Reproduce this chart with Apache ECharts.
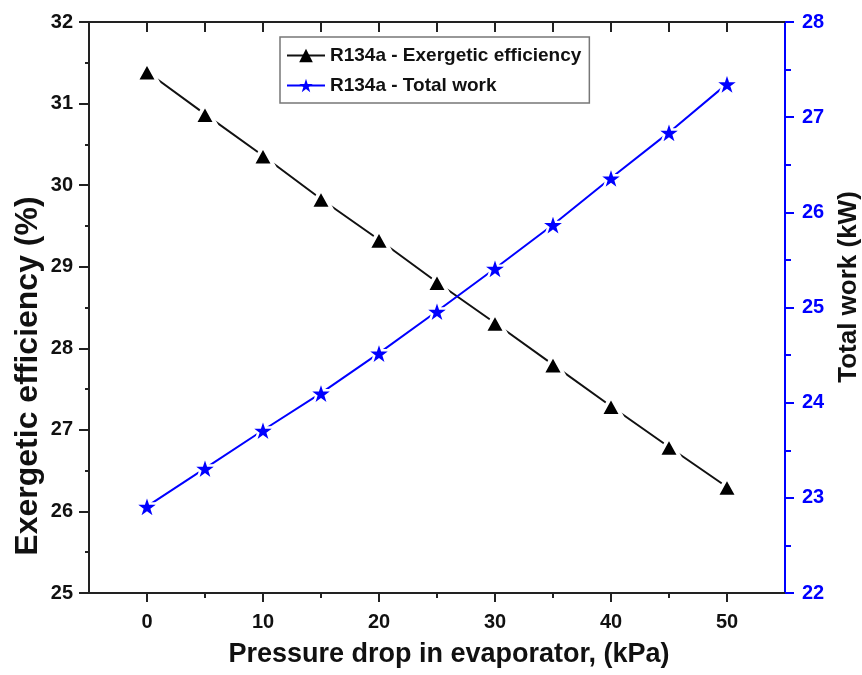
<!DOCTYPE html>
<html>
<head>
<meta charset="utf-8">
<script src="https://cdn.jsdelivr.net/npm/echarts@6/dist/echarts.min.js"></script>
<style>html,body{margin:0;padding:0;background:#fff;}#c{width:862px;height:675px;}</style>
</head>
<body>
<div id="c"></div>
<script>
const pressureDrop = [0, 5, 10, 15, 20, 25, 30, 35, 40, 45, 50];
const exergeticEfficiency = [31.39, 30.87, 30.36, 29.83, 29.33, 28.81, 28.31, 27.80, 27.29, 26.79, 26.30];
const totalWork = [22.91, 23.31, 23.71, 24.10, 24.52, 24.96, 25.41, 25.87, 26.36, 26.84, 27.35];
const xMajorTicks = [0, 10, 20, 30, 40, 50];
const xMinorTicks = [5, 15, 25, 35, 45];
const xTopTicks = [0, 5, 10, 15, 20, 25, 30, 35, 40, 45, 50];
const seriesNames = ['R134a - Exergetic efficiency', 'R134a - Total work'];
const xTitle = 'Pressure drop in evaporator, (kPa)';
const yLeftTitle = 'Exergetic efficiency (%)';
const yRightTitle = 'Total work (kW)';

const FONT = '"Liberation Sans", Arial, sans-serif';
const STAR = 'path://M50,0 L61.8,35.5 L99,35.5 L69,57.5 L80.5,93 L50,71 L19.5,93 L31,57.5 L1,35.5 L38.2,35.5 Z';

const chart = echarts.init(document.getElementById('c'));
const baseX = {min: -5, max: 55, type: 'value', splitLine: {show: false}};
chart.setOption({
  animation: false,
  backgroundColor: '#fff',
  grid: {left: 89, right: 77, top: 22, bottom: 82, containLabel: false},
  legend: {
    orient: 'vertical', left: 280, top: 37,
    padding: [9, 8, 8, 6], itemGap: 11,
    itemWidth: 38, itemHeight: 17,
    borderColor: '#777', borderWidth: 1.5,
    itemStyle: {borderWidth: 0},
    textStyle: {fontFamily: FONT, fontWeight: 'bold', fontSize: 19, color: '#111'},
    data: seriesNames
  },
  xAxis: [
    Object.assign({}, baseX, {
      position: 'bottom',
      axisLine: {show: true, onZero: false, lineStyle: {color: '#222', width: 2}},
      axisTick: {show: true, inside: false, length: 9, customValues: xMajorTicks, lineStyle: {color: '#222', width: 2}},
      axisLabel: {show: true, customValues: xMajorTicks, margin: 19, fontFamily: FONT, fontWeight: 'bold', fontSize: 20, color: '#111'}
    }),
    Object.assign({}, baseX, {
      position: 'bottom',
      axisLine: {show: false, onZero: false},
      axisTick: {show: true, inside: false, length: 5, customValues: xMinorTicks, lineStyle: {color: '#222', width: 2}},
      axisLabel: {show: false}
    }),
    Object.assign({}, baseX, {
      position: 'top',
      axisLine: {show: true, onZero: false, lineStyle: {color: '#222', width: 2}},
      axisTick: {show: true, inside: true, length: 10, customValues: xTopTicks, lineStyle: {color: '#222', width: 2}},
      axisLabel: {show: false}
    })
  ],
  yAxis: [
    {
      type: 'value', min: 25, max: 32, interval: 1, position: 'left',
      splitLine: {show: false},
      axisLine: {show: true, onZero: false, lineStyle: {color: '#222', width: 2}},
      axisTick: {show: true, length: 10, lineStyle: {color: '#222', width: 2}},
      minorTick: {show: true, splitNumber: 2, length: 4, lineStyle: {color: '#222', width: 2}},
      axisLabel: {margin: 16, fontFamily: FONT, fontWeight: 'bold', fontSize: 20, color: '#111'}
    },
    {
      type: 'value', min: 22, max: 28, interval: 1, position: 'right',
      splitLine: {show: false},
      axisLine: {show: true, onZero: false, lineStyle: {color: '#0000ff', width: 2}},
      axisTick: {show: true, length: 9, lineStyle: {color: '#0000ff', width: 2}},
      minorTick: {show: true, splitNumber: 2, length: 6, lineStyle: {color: '#0000ff', width: 2}},
      axisLabel: {margin: 17, fontFamily: FONT, fontWeight: 'bold', fontSize: 20, color: '#0000ff'}
    }
  ],
  graphic: [
    {type: 'text', x: 449, y: 655,
      style: {text: xTitle, font: 'bold 27px ' + FONT, fill: '#111', align: 'center', verticalAlign: 'middle'}},
    {type: 'text', x: 28, y: 376, rotation: Math.PI / 2,
      style: {text: yLeftTitle, font: 'bold 32px ' + FONT, fill: '#111', align: 'center', verticalAlign: 'middle'}},
    {type: 'text', x: 849, y: 287, rotation: Math.PI / 2,
      style: {text: yRightTitle, font: 'bold 26px ' + FONT, fill: '#111', align: 'center', verticalAlign: 'middle'}}
  ],
  series: [
    {
      name: seriesNames[0], type: 'line', xAxisIndex: 0, yAxisIndex: 0,
      data: pressureDrop.map((x, i) => [x, exergeticEfficiency[i]]),
      symbol: 'triangle', symbolSize: [21, 19],
      lineStyle: {color: '#111', width: 2},
      itemStyle: {color: '#000', borderColor: '#fff', borderWidth: 3.5}
    },
    {
      name: seriesNames[1], type: 'line', xAxisIndex: 0, yAxisIndex: 1,
      data: pressureDrop.map((x, i) => [x, totalWork[i]]),
      symbol: STAR, symbolSize: [25, 24],
      lineStyle: {color: '#0000ff', width: 2},
      itemStyle: {color: '#0000ff', borderColor: '#fff', borderWidth: 2.5}
    }
  ]
});
</script>
</body>
</html>
